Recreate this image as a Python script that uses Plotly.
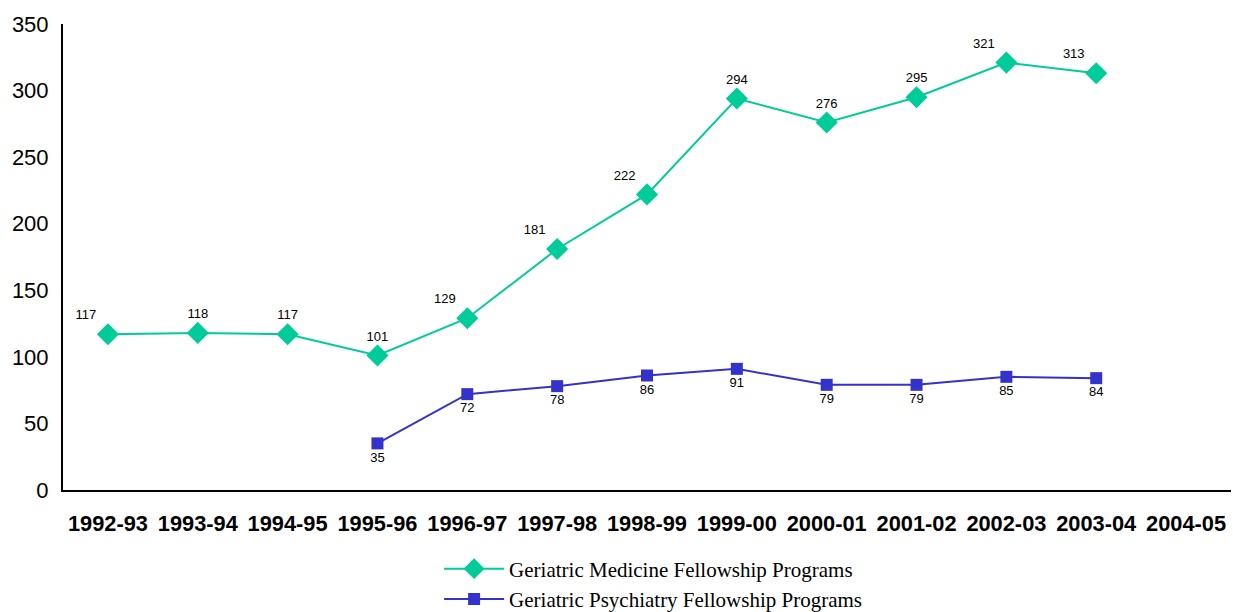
import plotly.graph_objects as go

years = ["1992-93", "1993-94", "1994-95", "1995-96", "1996-97", "1997-98", "1998-99",
         "1999-00", "2000-01", "2001-02", "2002-03", "2003-04", "2004-05"]
medicine = [117, 118, 117, 101, 129, 181, 222, 294, 276, 295, 321, 313, None]
psychiatry = [None, None, None, 35, 72, 78, 86, 91, 79, 79, 85, 84, None]

med_pos = ["top left", "top center", "top center", "top center", "top left", "top left",
           "top left", "top center", "top center", "top center", "top left", "top left", "top center"]

fig = go.Figure()
fig.add_trace(go.Scatter(
    x=years, y=medicine, name="Geriatric Medicine Fellowship Programs",
    mode="lines+markers+text", text=[str(v) if v is not None else "" for v in medicine],
    textposition=med_pos, textfont=dict(family="Arial, Liberation Sans", size=13, color="black"),
    line=dict(color="#00CC99", width=2), marker=dict(symbol="diamond", size=17, color="#00CC99"),
))
fig.add_trace(go.Scatter(
    x=years, y=psychiatry, name="Geriatric Psychiatry Fellowship Programs",
    mode="lines+markers+text", text=[str(v) if v is not None else "" for v in psychiatry],
    textposition="bottom center", textfont=dict(family="Arial, Liberation Sans", size=13, color="black"),
    line=dict(color="#3333CC", width=2), marker=dict(symbol="square", size=12, color="#3333CC"),
))

# figure slightly taller than the window so the legend never pushes the margins;
# the overflow below 612px is blank and cropped by the window
fig.update_layout(
    width=1233, height=640,
    margin=dict(l=63, r=2, t=24, b=150),
    paper_bgcolor="white", plot_bgcolor="white",
    showlegend=True,
    legend=dict(x=0.322, y=-0.1255, xanchor="left", yanchor="top",
                font=dict(family="Liberation Serif, Times New Roman", size=21, color="black"),
                tracegroupgap=0, itemwidth=60),
)
fig.update_xaxes(
    type="category", range=[-0.5, 12.5], showgrid=False, showline=True, linecolor="black",
    linewidth=2, ticks="", automargin=False,
    tickfont=dict(family="Arial, Liberation Sans", size=21.8, color="black", weight="bold"),
    ticklabelstandoff=13,
)
fig.update_yaxes(
    range=[0, 350], dtick=50, showgrid=False, showline=True, linecolor="black", linewidth=2,
    ticks="", zeroline=False, automargin=False,
    tickfont=dict(family="Arial, Liberation Sans", size=22, color="black"),
    ticklabelstandoff=8,
)
fig.write_html("out.html", config={"displayModeBar": False},
               post_script="document.body.style.margin='0';document.body.style.overflow='hidden';")
